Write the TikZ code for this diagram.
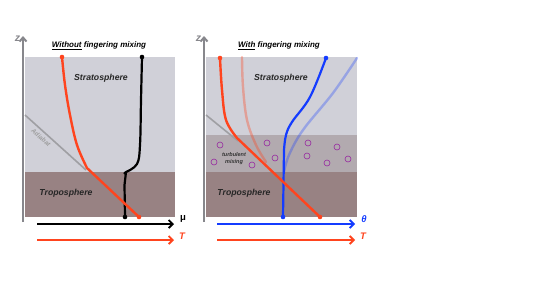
\documentclass[tikz,border=0pt]{standalone}
\usepackage{fontspec}
\setmainfont{Liberation Sans}
\usetikzlibrary{arrows.meta}
\definecolor{strato}{RGB}{208,208,216}
\definecolor{tropo}{RGB}{152,130,131}
\definecolor{turb}{RGB}{178,170,175}
\definecolor{ored}{RGB}{255,68,30}
\definecolor{bblue}{RGB}{20,60,255}
\definecolor{axgray}{RGB}{135,135,140}
\definecolor{purp}{RGB}{150,40,160}
\tikzset{
  curve/.style={line width=2.4pt, line cap=round, line join=round},
  enddot/.style={circle, inner sep=0pt, minimum size=4.6pt},
  zaxis/.style={draw=axgray, line width=2pt, -{Straight Barb[length=4pt,width=7pt]}},
  haxis/.style={line width=1.8pt, -{Straight Barb[length=4pt,width=8pt]}},
  lbl/.style={font=\fontsize{8.7}{9}\selectfont\bfseries\itshape, text=black!85},
  ttl/.style={font=\fontsize{8}{9}\selectfont\bfseries\itshape},
  zlbl/.style={font=\fontsize{10.5}{10}\selectfont\bfseries\itshape, text=axgray, inner sep=0pt},
  ring/.style={draw=purp, line width=0.6pt, circle, inner sep=0pt, minimum size=6pt},
}
\begin{document}
\begin{tikzpicture}[x=1pt,y=-1pt]
\useasboundingbox (0,0) rectangle (534,300);
% ---------- left panel ----------
\fill[strato] (25,57) rectangle (175,172);
\fill[tropo] (25,172) rectangle (175,217);
\draw[zaxis] (23,222) -- (23,36);
\node[zlbl] (zl) at (17.5,39) {z};
\node[ttl] (tl) at (99,46) {\underline{Without} fingering mixing};
\node[lbl] (sl) at (101,78) {Stratosphere};
\node[lbl] (trl) at (66,193) {Troposphere};
% adiabat
\draw[axgray!80, line width=1.6pt] (25,115) -- (86,170);
\node[font=\fontsize{6.3}{6}\selectfont\bfseries\itshape, text=black!38, rotate=-41, inner sep=0pt] (ad) at (41,137.5) {Adiabat};
% black mu profile
\draw[curve, line width=2.2pt] plot[smooth, tension=0.6] coordinates {(142,57) (141,100) (140,145) (137,164) (126,172)} -- (124.5,185) -- (125,217);
\node[enddot, fill=black] (b1) at (142,57) {};
\node[enddot, fill=black] (b2) at (125,217) {};
\node[enddot, fill=black, minimum size=3.5pt] (b3) at (125,173) {};
% orange T
\draw[curve, ored] plot[smooth, tension=0.6] coordinates {(62,57) (65,85) (70,115) (77,145) (87,168)} -- (139,217);
\node[enddot, fill=ored] (o1) at (62,57) {};
\node[enddot, fill=ored] (o2) at (139,217) {};
% axes
\draw[haxis, black] (37,224) -- (174,224);
\node[font=\fontsize{9.5}{9}\selectfont\bfseries] (mu) at (183,219) {μ};
\draw[haxis, ored] (37,240) -- (174,240);
\node[font=\fontsize{9.5}{9}\selectfont\bfseries\itshape, text=ored] (t1) at (182,236) {T};
% ---------- right panel ----------
\fill[strato] (206,57) rectangle (357,135);
\fill[turb] (206,135) rectangle (357,172);
\fill[tropo] (206,172) rectangle (357,217);
\draw[zaxis] (204,222) -- (204,36);
\node[zlbl] (zr) at (198.5,39) {z};
\node[ttl] (tr) at (279,46) {\underline{With} fingering mixing};
\node[lbl] (sr) at (281,78) {Stratosphere};
\node[lbl] (trr) at (244,193) {Troposphere};
\node[font=\fontsize{5.5}{6.5}\selectfont\bfseries\itshape, align=center, text=black!80, inner sep=0pt] (tm) at (234,158.5) {turbulent\\mixing};
% rings
\foreach \p [count=\i] in {(220,145),(267,143),(308,143),(337,147),(214,162),(252,165),(275,158),(307,156),(327,163),(348,159)}
  \node[ring] (r\i) at \p {};
% adiabat
\draw[axgray!80, line width=1.6pt] (206,115) -- (238,141);
% faded curves
\draw[curve, ored, opacity=0.35] plot[smooth, tension=0.6] coordinates {(242,57) (243,87) (247,120) (256,145) (266,162)};
\draw[curve, bblue, opacity=0.3] plot[smooth, tension=0.6] coordinates {(357,58) (333,93) (303,130) (289,155) (284,172)};
% blue theta
\draw[curve, bblue, line width=2.2pt] plot[smooth, tension=0.6] coordinates {(326,58) (310,97) (292,122) (286,135) (284,150)} -- (283,217);
\node[enddot, fill=bblue] (bl1) at (326,58) {};
\node[enddot, fill=bblue] (bl2) at (283,217) {};
% orange T
\draw[curve, ored] plot[smooth, tension=0.6] coordinates {(220,58) (222,90) (226,120) (237,138)} -- (320,217);
\node[enddot, fill=ored] (o3) at (220,58) {};
\node[enddot, fill=ored] (o4) at (320,217) {};
% axes
\draw[haxis, bblue] (217,224) -- (355,224);
\node[font=\fontsize{9.5}{9}\selectfont\bfseries\itshape, text=bblue] (th) at (364,219) {θ};
\draw[haxis, ored] (217,240) -- (355,240);
\node[font=\fontsize{9.5}{9}\selectfont\bfseries\itshape, text=ored] (t2) at (363,236) {T};
\end{tikzpicture}
\end{document}
